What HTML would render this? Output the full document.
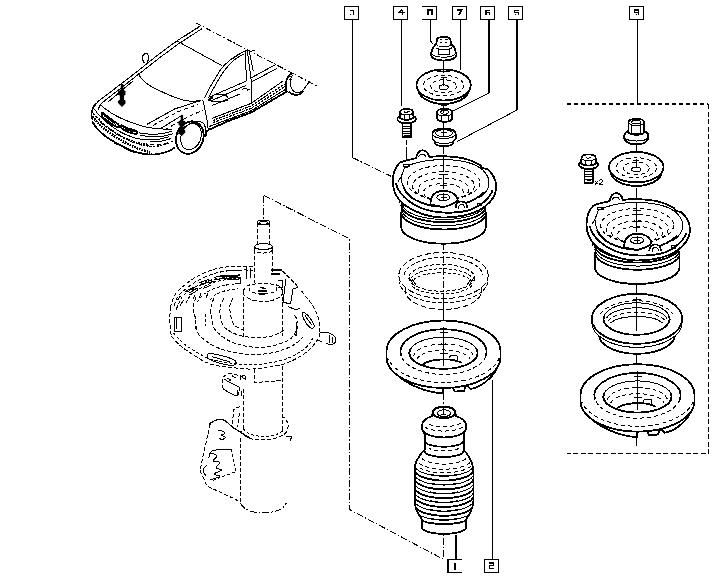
<!DOCTYPE html>
<html><head><meta charset="utf-8"><title>diagram</title>
<style>
html,body{margin:0;padding:0;background:#fff;}
body{width:718px;height:580px;overflow:hidden;font-family:"Liberation Sans",sans-serif;}
svg{display:block;shape-rendering:crispEdges;}
path,ellipse,rect,line{fill:none;stroke:#000;stroke-width:1;stroke-linecap:butt;stroke-linejoin:round;}
.t{stroke-width:1;}
.n{stroke-width:1;}
.k{stroke-width:1.8;}
.h{stroke-width:2;}
.k2{stroke-width:1.25;}
.d{stroke-width:1;stroke-dasharray:4 2;}
.d6{stroke-width:1;stroke-dasharray:6 2.5;}
.dd{stroke-width:1;stroke-dasharray:3 2;}
.dn{stroke-width:1;stroke-dasharray:4 3;}
.c{stroke-width:1;stroke-dasharray:7 2 1.5 2;}
.cs{stroke-width:1;stroke-dasharray:5 2;}
.bx{stroke-width:2;stroke-dasharray:4.8 2.2;}
.bx1{stroke-width:1;stroke-dasharray:5 2.5;}
.cf{stroke-width:1;stroke-dasharray:6 2 1.5 2;}
.dk{stroke-width:1.2;stroke-dasharray:2.5 1;}
.hx{stroke-width:2.4;stroke-dasharray:1.6 1;}
.hx2{stroke-width:2;stroke-dasharray:1.6 1;}
.fk{fill:#000;stroke:#000;stroke-width:.5;}
.w{fill:#fff;}
.f{fill:#000;}
.lb{stroke-width:1.2;}
.g{stroke-width:1.1;stroke-linejoin:miter;}
.g2{stroke-width:2;stroke-linejoin:miter;}
text{font-family:"Liberation Sans",sans-serif;fill:#000;stroke:none;}
</style></head><body>
<svg width="718" height="580" viewBox="0 0 718 580">
<rect class="lb" x="344.5" y="6.5" width="14" height="13"/>
<rect class="lb" x="393.5" y="6.5" width="14" height="13"/>
<path class="lb" d="M422.3,6.5H436.3V19.5H422.3" />
<rect class="lb" x="452.4" y="6.5" width="14" height="13"/>
<rect class="lb" x="480.4" y="6.5" width="14" height="13"/>
<rect class="lb" x="508.5" y="6.5" width="14" height="13"/>
<rect class="lb" x="629.3" y="6.5" width="14" height="13"/>
<path class="g" d="M349.8,10.2H353.6V15" />
<path class="g" d="M349.8,14.4h1" />
<path class="g" d="M402.6,9.6V15.2M398.2,12.8H404.6M398.4,12.6L401.8,9.8" />
<path class="g2" d="M427.6,15V10.4H431.6V15" />
<path class="g2" d="M457.2,10.2H461.4L459.2,15" />
<path class="g" d="M489.6,10.2H486V14.8M486,12.4H489.8V15" />
<path class="g" d="M518.6,10.2H514.8V12.4H518.4V15M514.6,14.6h1.2" />
<path class="g" d="M638.2,15V10H634.6V12.6H638" />
<path class="g" d="M636.4,14.8h1" />
<path class="lb" d="M461.6,559.8H448V572.8H461.6" />
<path class="g2" d="M455,562.6V569.6" />
<rect class="lb" x="484.5" y="559.5" width="14" height="13.3"/>
<path class="g" d="M489.4,563H493.4V565.6H489.6V568.6H493.8" />
<path class="t" d="M352.3,19.5V157.5" />
<path class="c" d="M352.3,157.5L391.5,176.5" />
<path class="t" d="M401.3,19.5V105.5" />
<path class="t" d="M430.4,19.5V41L433.5,44.5" />
<path class="t" d="M460.3,19.5V70" />
<path class="h" d="M488.9,19.5V93" />
<path class="t" d="M488.9,93L453,111" />
<path class="h" d="M517.1,19.5V110" />
<path class="t" d="M517.1,110L457.4,141.4" />
<path class="t" d="M637.3,19.5V103" />
<path class="t" d="M492.5,380V559.5" />
<path class="h" d="M456,535V559.8" />
<path class="bx" d="M566.5,103.6H708" />
<path class="bx1" d="M708.6,104V453.4H566.5" />
<path class="c" d="M263.8,195.5V221" />
<path class="c" d="M263.8,195.5L349.5,238.8V509.5L443.5,559.3V535" />
<path class="t" d="M443.5,60.5V69.5M437.5,69.7H450" />
<path class="t" d="M443.5,103V109M440.5,105.6H446.5" />
<path class="t" d="M443.5,120V129" />
<path class="t" d="M443.5,145.5V154M443.5,157V172M443.5,175V183" />
<path class="k w" d="M436.9,40C436.9,36 450.5,36 450.5,40L451.09999999999997,44C453.7,46 455.3,49 455.7,52C457.3,54 456.7,57 452.7,59C447.7,61 439.7,61 434.7,59C430.7,57 430.09999999999997,54 431.7,52C432.09999999999997,49 433.7,46 436.3,44Z" />
<path class="t" d="M451.1,44.0A7.4,2.6 0 0 1 436.3,44.0"/>
<path class="t" d="M455.8,53.4A12.3,4.6 0 0 1 431.6,53.4"/>
<path class="t" d="M439.7,40.2q1.4,-1.6 2.8,0M444.9,40.2q1.4,-1.6 2.8,0" />
<path class="n" d="M440.3,42.4h2M445.3,42.4h2" />
<path class="t" d="M440.7,49.4h-2.4V54.6h2.4M446.7,49.4h2.4V54.6h-2.4M440.7,54.6h6" />
<path class="n" d="M451.8,47.8A8.6,2.4 0 0 1 435.6,47.8"/>
<path class="k" d="M469.2,89.8A25.7,15.5 0 0 1 418.0,89.8"/>
<ellipse class="k w" cx="443.6" cy="85" rx="27.2" ry="15.5"/>
<ellipse class="dn" cx="443.6" cy="85.5" rx="20.128" ry="10.23"/>
<ellipse class="dn" cx="443.6" cy="86.2" rx="12.783999999999999" ry="6.51"/>
<ellipse class="t" cx="443.6" cy="87.2" rx="4.6240000000000006" ry="2.3249999999999997"/>
<path class="t" d="M443.40000000000003,76.6V86M440.6,77.8h6" />
<path class="t" d="M443.5,60.5V73M437.4,71H450.4" />
<path class="k w" d="M436.90000000000003,112.39999999999999C436.90000000000003,107.8 452.3,107.8 452.3,112.39999999999999V118.2C451.1,123.0 438.1,123.0 436.90000000000003,118.2Z" />
<path class="t" d="M452.3,112.6A7.7,3.4 0 0 1 436.9,112.6"/>
<ellipse class="t" cx="444.6" cy="112.2" rx="3.8" ry="2"/>
<path class="t" d="M441.20000000000005,115.6V121.2M448.0,115.6V121.2" />
<path class="t" d="M443.8,109.8V112.8" />
<path class="k w" d="M432.4,133.6C432.4,126.7 455.6,126.7 455.6,133.6V139.0L453,141.4V143.4C450,147.20000000000002 438,147.20000000000002 435,143.4V141.4L432.4,139.0Z" />
<path class="t" d="M455.6,133.6A11.6,5 0 0 1 432.4,133.6"/>
<ellipse class="t" cx="444" cy="133.20000000000002" rx="8.4" ry="3.5"/>
<path class="t" d="M455.0,140.0A11.4,4.6 0 0 1 433.0,140.0"/>
<path class="t" d="M443.5,129.0V136.8M441,132.0h5.5M441.6,136.4h4" />
<path class="k w" d="M402.40000000000003,123.0V137.0H410.8V123.0" />
<path class="n" d="M402.40000000000003,126.4H410.8" />
<path class="n" d="M402.40000000000003,128.7H410.8" />
<path class="n" d="M402.40000000000003,131.0H410.8" />
<path class="n" d="M402.40000000000003,133.3H410.8" />
<path class="k" d="M403.6,135.6h6" />
<ellipse class="k w" cx="406.6" cy="119.0" rx="9.3" ry="4.4"/>
<path class="k w" d="M400.20000000000005,112.0C400.20000000000005,108.0 413.0,108.0 413.0,112.0L413.6,117.6C410.6,120.6 402.6,120.6 399.6,117.6Z" />
<path class="t" d="M413.0,112.2A6.4,2.6 0 0 1 400.2,112.2"/>
<path class="n" d="M404.0,114.6V119.4M409.20000000000005,114.6V119.4" />
<path class="n" d="M403.6,111.4l2,1.4l4,-1.6" />
<path class="t" d="M406.5,140V144.6M406.5,147V163" />
<path class="k w" d="M404.0,203.0C402.0,207.0 401.2,209.0 401.2,213.0V227.2A42.3,16.5 0 0 0 485.8,227.2V213.0C485.8,209.0 485.0,207.0 483.0,203.0" />
<path class="t" d="M401.2,202.5C401.6,205.5 402.0,205.5 403.0,207.0A42.3,16.5 0 0 0 485.8,205.5"/>
<path class="k" d="M401.2,205.29999999999998C401.6,208.29999999999998 402.0,208.29999999999998 403.0,209.79999999999998A42.3,16.5 0 0 0 485.8,208.29999999999998"/>
<path class="t" d="M401.2,208.79999999999998C401.6,211.79999999999998 402.0,211.79999999999998 403.0,213.29999999999998A42.3,16.5 0 0 0 485.8,211.79999999999998"/>
<path class="k" d="M401.2,212.5C401.6,215.5 402.0,215.5 403.0,217.0A42.3,16.5 0 0 0 485.8,215.5"/>
<path class="k w" d="M392.8,181.0C393.0,172.0 395.5,166.5 400.0,162.6L403.4,161.2L416.0,158.2C417.0,153.0 419.0,150.4 422.4,150.2C425.6,150.2 428.0,153.0 429.4,157.0C437.0,155.8 452.0,156.0 462.0,158.0C470.0,159.8 476.0,162.4 480.7,165.4L481.4,168.0L487.3,169.0C492.0,173.0 496.0,179.0 496.2,186.0C496.4,195.0 490.0,204.0 479.0,210.4C468.0,215.8 455.0,217.6 443.0,217.6C428.0,217.2 415.0,212.0 406.0,206.0C397.6,200.0 392.8,191.0 392.8,181.0Z" />
<path class="t" d="M418.6,157.4C419.0,153.5 424.5,153.0 426.0,157.2" />
<path class="k" d="M396.0,183.0C398.0,193.0 408.0,202.6 422.0,208.4C436.0,213.6 456.0,214.0 470.0,210.0C481.0,206.0 490.0,198.0 492.6,190.0" />
<path class="t" d="M401.3,176.5L404.5,167.5C415.0,161.8 432.0,159.4 446.0,159.6C462.0,160.0 476.0,164.0 482.8,170.0C487.0,174.0 489.5,179.0 489.0,184.0C488.5,190.0 485.0,194.0 479.0,198.0" />
<path class="t" d="M398.2,181.4L401.3,176.5C401.0,184.0 405.0,191.0 411.0,196.0" />
<ellipse class="dn" cx="443.5" cy="182.5" rx="36.5" ry="17.0"/>
<ellipse class="dn" cx="443.5" cy="186.0" rx="31.0" ry="14.2"/>
<ellipse class="dn" cx="443.5" cy="189.5" rx="25.5" ry="11.5"/>
<path class="dn" d="M426.2,197.0A20.0,9.0 0 1 1 460.8,197.0"/>
<path class="k" d="M403.5,187.0C406.0,195.0 416.0,202.0 431.0,205.6L440.0,206.4" />
<path class="k" d="M458.0,205.6C468.0,203.0 478.0,198.5 483.5,192.5" />
<path class="k w" d="M430.4,204.6C430.5,196.0 435.0,191.0 443.5,190.8C452.0,191.0 457.0,195.0 457.8,200.4C454.0,204.5 448.0,205.5 443.0,207.4L440.0,206.4Z" />
<ellipse class="t" cx="443.3" cy="197.4" rx="6.6" ry="3.3"/>
<path class="t" d="M443.5,192.8V200.0M440.5,197.4h6" />
<path class="k w" d="M455.6,208.4C455.0,199.4 467.0,199.0 467.4,208.0" />
<path class="t" d="M458.4,208.6C458.6,203.0 464.4,203.0 464.6,208.2" />
<path class="n" d="M477.4,203.0h4v2.6h-4zM479.0,204.4h1.4" />
<ellipse class="t" cx="406.5" cy="165.6" rx="3.2" ry="1.5"/>
<path class="t" d="M399.0,199.0v4.4M401.5,201.5v3.6" />
<path class="t" d="M443.5,145.5V154M443.5,157V172M443.5,175V189M439.4,174H447.6M440,185.6H447" />
<path class="c" d="M443.5,243V320" />
<ellipse class="d6" cx="443.5" cy="275.5" rx="44.7" ry="23"/>
<path class="d" d="M404.1,274.8A39.6,19.4 0 0 1 482.9,274.8"/>
<path class="d" d="M488.0,282.0A44.7,23 0 0 1 399.0,282.0"/>
<path class="d6" d="M405.5,288V291A38,18.4 0 0 0 481.5,291V288" />
<ellipse class="d" cx="441.8" cy="277.8" rx="33" ry="13.4"/>
<path class="dd" d="M411.5,277.8A31,11.4 0 0 1 472.1,277.8"/>
<path class="dd" d="M413.8,279.6A29.4,9.8 0 0 1 469.8,279.6"/>
<path class="dd" d="M472.3,285.4A32.5,13 0 0 1 411.3,285.4"/>
<path class="n" d="M409,277l4,7M474,277l-4,7M412,279l4,6M471,279l-4,6" />
<path class="t" d="M443.5,300V320" />
<path class="k w" d="M389.0,364.0C391.0,369.0 393.0,371.0 395.0,373.0C405.0,383.0 424.0,392.4 443.0,393.4V386.0L452.4,386.4L455.0,391.6L464.2,390.8L465.2,386.4L467.8,386.2L470.6,389.0C478.0,388.0 485.0,383.0 490.0,378.0C494.0,374.0 497.0,369.0 498.4,364.0" />
<path class="k w" d="M386.5,351.5A57.0,31.0 0 0 1 500.5,351.5V357.0A57.0,31.0 0 0 1 386.5,357.0Z" />
<path class="dn" d="M499.3,357.9A57.0,31.0 0 0 1 387.7,357.9"/>
<path class="dn" d="M485.8,355.9A43.0,22.6 0 0 1 401.2,355.9"/>
<path class="k" d="M401.2,355.9A43.0,22.6 0 1 1 485.8,355.9"/>
<ellipse class="t" cx="443.5" cy="353.0" rx="34.0" ry="15.8"/>
<path class="k" d="M476.3,348.9A34.0,15.8 0 1 1 410.7,348.9"/>
<path class="dn" d="M413.6,355.9A30.0,13.0 0 0 1 473.4,355.9"/>
<path class="dn" d="M416.9,359.1A27.0,11.0 0 0 1 470.1,359.1"/>
<path class="k" d="M422.5,366.5A21.0,7.0 0 0 1 461.7,363.0"/>
<path class="t" d="M449.0,358.4L450.5,355.6H457.0V360.4" />
<path class="t" d="M443.5,327.0V366.0M439.5,332.6h8M439.5,344.0h8M439.5,353.6h8" />
<path class="c" d="M443.5,393V406" />
<clipPath id="bc"><path d="M432.6,412.6C432.6,404.6 455.4,404.6 455.4,412.6L456,416C460.5,417.5 466.2,421 466.2,426C466.2,430 465,432 463.6,433.6V450L466,452.5C468.5,456 471.6,460 472.4,465L473.4,470V501C473.2,506 471,512 468,516.5L466,519.5V527.6C464,536 424,536 422,527.6V519.5L420,516.5C417,512 414.8,506 414.6,501V470L415.2,465C416.4,460 419.5,456 422,452.5L424.6,450V433.6C423,432 422,430 422,426C422,421 427.6,417.5 432,416Z"/></clipPath>
<path class="k w" d="M432.6,412.6C432.6,404.6 455.4,404.6 455.4,412.6L456,416C460.5,417.5 466.2,421 466.2,426C466.2,430 465,432 463.6,433.6V450L466,452.5C468.5,456 471.6,460 472.4,465L473.4,470V501C473.2,506 471,512 468,516.5L466,519.5V527.6C464,536 424,536 422,527.6V519.5L420,516.5C417,512 414.8,506 414.6,501V470L415.2,465C416.4,460 419.5,456 422,452.5L424.6,450V433.6C423,432 422,430 422,426C422,421 427.6,417.5 432,416Z" />
<ellipse class="k" cx="444" cy="412.6" rx="11.4" ry="5.6"/>
<ellipse class="t" cx="444" cy="413.2" rx="6.6" ry="3.4"/>
<path class="t" d="M443.5,406V414.5M441,414.8h5" />
<path class="k" d="M465.9,429.2A22,9.2 0 0 1 422.1,429.2"/>
<path class="dn" d="M460.4,423.3A17.5,5 0 0 1 427.6,423.3"/>
<path class="dn" d="M462.6,427.3A20.5,6.5 0 0 1 425.4,427.3"/>
<path class="k" d="M463.4,441.0A19.4,5.8 0 0 1 424.6,441.0"/>
<path class="k" d="M463.4,451.2A19.4,5.8 0 0 1 424.6,451.2"/>
<path class="dn" d="M458.7,448.5A17,5 0 0 1 429.3,448.5"/>
<g clip-path="url(#bc)">
<path class="dn" d="M465.8,458.8A24,9 0 0 1 422.2,458.8"/>
<path class="dn" d="M470.0,462.5A28,10.6 0 0 1 418.0,462.5"/>
<path class="dn" d="M470.8,466.3A29.6,11.4 0 0 1 417.2,466.3"/>
<path class="t" d="M473.8,464.6A29.8,11.6 0 0 1 414.2,464.6"/>
<path class="k2" d="M457.8,474.3A24,9.2 0 0 1 430.2,474.3"/>
<path class="k" d="M473.8,469.0A29.8,11.6 0 0 1 414.2,469.0"/>
<path class="k2" d="M457.8,478.7A24,9.2 0 0 1 430.2,478.7"/>
<path class="t" d="M473.8,473.4A29.8,11.6 0 0 1 414.2,473.4"/>
<path class="k2" d="M457.8,483.1A24,9.2 0 0 1 430.2,483.1"/>
<path class="k" d="M473.8,477.8A29.8,11.6 0 0 1 414.2,477.8"/>
<path class="k2" d="M457.8,487.5A24,9.2 0 0 1 430.2,487.5"/>
<path class="t" d="M473.8,482.2A29.8,11.6 0 0 1 414.2,482.2"/>
<path class="k2" d="M457.8,491.9A24,9.2 0 0 1 430.2,491.9"/>
<path class="k" d="M473.8,486.6A29.8,11.6 0 0 1 414.2,486.6"/>
<path class="k2" d="M457.8,496.3A24,9.2 0 0 1 430.2,496.3"/>
<path class="t" d="M473.8,491.0A29.8,11.6 0 0 1 414.2,491.0"/>
<path class="k2" d="M457.8,500.7A24,9.2 0 0 1 430.2,500.7"/>
<path class="k" d="M473.8,495.4A29.8,11.6 0 0 1 414.2,495.4"/>
<path class="k2" d="M457.8,505.1A24,9.2 0 0 1 430.2,505.1"/>
<path class="t" d="M473.8,499.8A29.8,11.6 0 0 1 414.2,499.8"/>
<path class="k2" d="M457.8,509.5A24,9.2 0 0 1 430.2,509.5"/>
<path class="k" d="M473.8,504.2A29.8,11.6 0 0 1 414.2,504.2"/>
<path class="k2" d="M457.8,513.9A24,9.2 0 0 1 430.2,513.9"/>
<path class="t" d="M473.8,508.6A29.8,11.6 0 0 1 414.2,508.6"/>
<path class="k2" d="M457.8,518.3A24,9.2 0 0 1 430.2,518.3"/>
</g>
<path class="k" d="M465.9,519.4A22,4.6 0 0 1 421.9,519.4"/>
<path class="t" d="M636.5,144.5V152M636.5,187.5V203M636.5,283V296M636.5,352V364M636.5,437V446" />
<path class="k w" d="M628.5,122.4C628.5,117.8 644.0999999999999,117.8 644.0999999999999,122.4V131C649.3,133 649.6999999999999,138 646.3,141.4C642.3,145.4 630.3,145.4 626.3,141.4C622.9,138 623.3,133 628.5,131Z" />
<path class="t" d="M644.1,122.4A7.8,3.2 0 0 1 628.5,122.4"/>
<ellipse class="n" cx="636.3" cy="122.2" rx="4.6" ry="1.8"/>
<path class="t" d="M631.8,125.2V133.6H640.8V125.2" />
<path class="k" d="M644.8,131.4A8.5,3.4 0 0 1 627.8,131.4"/>
<path class="t" d="M648.8,137.0A12.6,4.6 0 0 1 623.8,137.0"/>
<path class="k" d="M662.0,172.1A25.8,15.2 0 0 1 610.6,172.1"/>
<ellipse class="k w" cx="636.3" cy="167.2" rx="27.3" ry="15.2"/>
<ellipse class="dn" cx="636.3" cy="167.7" rx="20.202" ry="10.032"/>
<ellipse class="dn" cx="636.3" cy="168.39999999999998" rx="12.831" ry="6.3839999999999995"/>
<ellipse class="t" cx="636.3" cy="169.39999999999998" rx="4.641" ry="2.28"/>
<path class="t" d="M636.0999999999999,158.79999999999998V168.2M633.3,160.0h6" />
<path class="k w" d="M584.4,167.6V182.6H592.8000000000001V167.6" />
<path class="n" d="M584.4,171.6H592.8000000000001" />
<path class="n" d="M584.4,174.1H592.8000000000001" />
<path class="n" d="M584.4,176.6H592.8000000000001" />
<path class="n" d="M584.4,179.1H592.8000000000001" />
<path class="k" d="M586.6,180.2h4" />
<ellipse class="k w" cx="588.6" cy="164.6" rx="9.6" ry="4.4"/>
<path class="k w" d="M581.6,157.6C581.6,153.4 595.6,153.4 595.6,157.6L596.2,163.1C592.6,166.4 584.6,166.4 581.0,163.1Z" />
<path class="t" d="M595.6,157.8A7,2.8 0 0 1 581.6,157.8"/>
<path class="n" d="M586.0,157.4l2,1.2l3.4,-1.6" />
<path class="n" d="M585.6,160.6V165.0M591.6,160.6V165.0" />
<path class="t" d="M595,184.4l3,-3.4M595.4,181l2.2,3.4M599.4,180.6q2,-1.6 3,0q0.4,1.4 -3.4,3.8h3.6" />
<path class="k w" d="M597.7,245.9C595.7,249.9 594.9000000000001,251.9 594.9000000000001,255.9V267.5A42.3,16.5 0 0 0 679.5,267.5V255.9C679.5,251.9 678.7,249.9 676.7,245.9" />
<path class="t" d="M594.9000000000001,242.8C595.3000000000001,245.8 595.7,245.8 596.7,247.3A42.3,16.5 0 0 0 679.5,245.8"/>
<path class="k" d="M594.9000000000001,245.6C595.3000000000001,248.6 595.7,248.6 596.7,250.1A42.3,16.5 0 0 0 679.5,248.6"/>
<path class="t" d="M594.9000000000001,249.1C595.3000000000001,252.1 595.7,252.1 596.7,253.6A42.3,16.5 0 0 0 679.5,252.1"/>
<path class="k" d="M594.9000000000001,252.8C595.3000000000001,255.8 595.7,255.8 596.7,257.3A42.3,16.5 0 0 0 679.5,255.8"/>
<path class="k w" d="M586.5,223.9C586.7,214.9 589.2,209.4 593.7,205.5L597.1,204.1L609.7,201.1C610.7,195.9 612.7,193.3 616.1,193.1C619.3000000000001,193.1 621.7,195.9 623.1,199.9C630.7,198.70000000000002 645.7,198.9 655.7,200.9C663.7,202.70000000000002 669.7,205.3 674.4000000000001,208.3L675.1,210.9L681.0,211.9C685.7,215.9 689.7,221.9 689.9000000000001,228.9C690.1,237.9 683.7,246.9 672.7,253.3C661.7,258.70000000000005 648.7,260.5 636.7,260.5C621.7,260.1 608.7,254.9 599.7,248.9C591.3000000000001,242.9 586.5,233.9 586.5,223.9Z" />
<path class="t" d="M612.3000000000001,200.3C612.7,196.4 618.2,195.9 619.7,200.1" />
<path class="k" d="M589.7,225.9C591.7,235.9 601.7,245.5 615.7,251.3C629.7,256.5 649.7,256.9 663.7,252.9C674.7,248.9 683.7,240.9 686.3000000000001,232.9" />
<path class="t" d="M595.0,219.4L598.2,210.4C608.7,204.70000000000002 625.7,202.3 639.7,202.5C655.7,202.9 669.7,206.9 676.5,212.9C680.7,216.9 683.2,221.9 682.7,226.9C682.2,232.9 678.7,236.9 672.7,240.9" />
<path class="t" d="M591.9000000000001,224.3L595.0,219.4C594.7,226.9 598.7,233.9 604.7,238.9" />
<ellipse class="dn" cx="637.2" cy="225.4" rx="36.5" ry="17.0"/>
<ellipse class="dn" cx="637.2" cy="228.9" rx="31.0" ry="14.2"/>
<ellipse class="dn" cx="637.2" cy="232.4" rx="25.5" ry="11.5"/>
<path class="dn" d="M619.9,239.9A20.0,9.0 0 1 1 654.5,239.9"/>
<path class="k" d="M597.2,229.9C599.7,237.9 609.7,244.9 624.7,248.5L633.7,249.3" />
<path class="k" d="M651.7,248.5C661.7,245.9 671.7,241.4 677.2,235.4" />
<path class="k w" d="M624.1,247.5C624.2,238.9 628.7,233.9 637.2,233.70000000000002C645.7,233.9 650.7,237.9 651.5,243.3C647.7,247.4 641.7,248.4 636.7,250.3L633.7,249.3Z" />
<ellipse class="t" cx="637.0" cy="240.3" rx="6.6" ry="3.3"/>
<path class="t" d="M637.2,235.70000000000002V242.9M634.2,240.3h6" />
<path class="k w" d="M649.3000000000001,251.3C648.7,242.3 660.7,241.9 661.1,250.9" />
<path class="t" d="M652.1,251.5C652.3000000000001,245.9 658.1,245.9 658.3000000000001,251.1" />
<path class="n" d="M671.1,245.9h4v2.6h-4zM672.7,247.3h1.4" />
<ellipse class="t" cx="600.2" cy="208.5" rx="3.2" ry="1.5"/>
<path class="t" d="M592.7,241.9v4.4M595.2,244.4v3.6" />
<path class="t" d="M636.5,203V232M633,210.8h8M633.4,214.8h7M633,221.6h8M633.4,227.6h7" />
<path class="k w" d="M599,330.8V334.8A38,19 0 0 0 675,334.8V330.8" />
<path class="t w" d="M591.8,318.8V322.40000000000003A45.2,25 0 0 0 682.2,322.40000000000003V318.8" />
<ellipse class="k w" cx="637" cy="318.8" rx="45.2" ry="25"/>
<ellipse class="t" cx="636.6" cy="318.8" rx="33" ry="16"/>
<path class="k" d="M669.1,316.0A33,16 0 1 1 604.1,316.0"/>
<path class="t" d="M606.3,318.4A31,13.4 0 0 1 666.9,318.4"/>
<path class="dn" d="M608.2,320.8A29.4,11.6 0 0 1 665.0,320.8"/>
<path class="t" d="M610.7,323.0A27.6,9.8 0 0 1 662.5,323.0"/>
<path class="dn" d="M600.3,314.0A38.6,20 0 0 1 672.9,314.0"/>
<path class="t" d="M636.5,296.8V330.8M632.5,299.8h8M632.5,307.8h8M633,316.8h7" />
<path class="k w" d="M583.0,407.7C585.0,412.7 587.0,414.7 589.0,416.7C599.0,426.7 618.0,436.09999999999997 637.0,437.09999999999997V429.7L646.4,430.09999999999997L649.0,435.3L658.2,434.5L659.2,430.09999999999997L661.8,429.9L664.6,432.7C672.0,431.7 679.0,426.7 684.0,421.7C688.0,417.7 691.0,412.7 692.4,407.7" />
<path class="k w" d="M580.5,395.2A57.0,31.0 0 0 1 694.5,395.2V400.7A57.0,31.0 0 0 1 580.5,400.7Z" />
<path class="dn" d="M693.3,401.6A57.0,31.0 0 0 1 581.7,401.6"/>
<path class="dn" d="M679.8,399.6A43.0,22.6 0 0 1 595.2,399.6"/>
<path class="k" d="M595.2,399.6A43.0,22.6 0 1 1 679.8,399.6"/>
<ellipse class="t" cx="637.5" cy="396.7" rx="34.0" ry="15.8"/>
<path class="k" d="M670.3,392.6A34.0,15.8 0 1 1 604.7,392.6"/>
<path class="dn" d="M607.6,399.6A30.0,13.0 0 0 1 667.4,399.6"/>
<path class="dn" d="M610.9,402.8A27.0,11.0 0 0 1 664.1,402.8"/>
<path class="k" d="M616.5,410.2A21.0,7.0 0 0 1 655.7,406.7"/>
<path class="t" d="M643.0,402.09999999999997L644.5,399.3H651.0V404.09999999999997" />
<path class="t" d="M637.5,370.7V409.7M633.5,376.3h8M633.5,387.7h8M633.5,397.3h8" />
<ellipse class="t" cx="263.5" cy="222.4" rx="6.2" ry="2.4"/>
<ellipse class="n" cx="263.5" cy="222.8" rx="4" ry="1.4"/>
<path class="d" d="M257.3,222.6V244M269.7,222.6V244" />
<ellipse class="t" cx="263.5" cy="246.6" rx="8.8" ry="3"/>
<path class="t" d="M254.8,246.6V250M272.2,246.6V250" />
<path class="d" d="M272.3,250.0A8.8,3 0 0 1 254.7,250.0"/>
<path class="d" d="M254.8,250V283M272.2,250V272" />
<path class="d" d="M243.2,291.0C244.0,290.1 244.7,286.8 248.0,285.5C251.3,284.2 258.0,283.5 263.0,283.5C268.0,283.5 274.7,284.2 278.0,285.5C281.3,286.8 282.0,290.1 282.8,291.0"/>
<path class="d" d="M282.8,292.0A19.8,9.5 0 0 1 243.2,292.0"/>
<path class="d" d="M276.2,287.3A14,5 0 1 1 249.8,287.3"/>
<path class="k" d="M258,290.6h9M259,294h6" />
<path class="d" d="M243.2,291V339M282.8,291V336" />
<path class="d" d="M170.6,307.4C170.8,306.5 171.2,304.0 172.0,301.8C172.8,299.6 173.6,296.7 175.4,294.1C177.2,291.6 180.0,289.2 183.1,286.5C186.2,283.8 189.5,280.8 194.2,278.1C198.8,275.4 205.7,272.2 211.0,270.4C216.3,268.5 221.0,267.7 226.3,267.0C231.6,266.3 238.6,266.3 243.0,266.3C247.4,266.3 251.1,266.9 252.7,267.0"/>
<path class="d" d="M301.6,291.0C302.5,292.2 305.2,295.7 307.0,298.0C308.8,300.3 310.9,302.7 312.4,305.0C313.9,307.3 315.0,309.7 316.0,312.0C317.0,314.3 318.0,316.7 318.6,319.0C319.2,321.3 319.5,323.7 319.6,326.0C319.7,328.3 319.4,331.8 319.4,333.0"/>
<path class="d" d="M170.6,307.4C170.5,309.5 169.7,315.2 169.8,320.0C169.9,324.8 171.1,333.7 171.3,336.4"/>
<path class="d" d="M171.3,336.4C172.8,337.9 176.9,342.7 180.0,345.4C183.1,348.1 185.0,349.5 190.0,352.6C195.0,355.7 202.1,361.3 210.0,363.9C217.9,366.5 230.6,367.3 237.7,368.2C244.8,369.1 248.2,369.1 252.8,369.0C257.4,368.9 259.5,368.9 265.3,367.8C271.1,366.7 280.7,365.4 287.8,362.6C294.9,359.8 302.9,355.0 307.9,351.0C312.9,347.0 316.1,341.8 318.0,338.8C319.9,335.8 319.3,334.0 319.6,333.0"/>
<path class="d" d="M174.0,306.0C174.6,304.5 175.8,299.7 177.6,297.0C179.4,294.3 181.9,292.2 185.0,289.6C188.1,287.0 191.5,284.2 196.0,281.6C200.5,279.0 206.7,276.0 212.0,274.2C217.3,272.4 222.8,271.5 228.0,270.8C233.2,270.1 238.8,270.1 243.0,270.0C247.2,269.9 251.3,270.3 253.0,270.4"/>
<path class="dd" d="M173.5,333.0C175.1,334.7 179.6,340.1 183.0,343.0C186.4,345.9 189.2,347.8 194.0,350.6C198.8,353.4 204.7,357.4 212.0,359.6C219.3,361.8 231.2,363.1 238.0,364.0C244.8,364.9 248.3,364.9 253.0,364.8C257.7,364.7 260.3,364.6 266.0,363.6C271.7,362.6 280.5,361.1 287.0,358.6C293.5,356.1 300.7,351.9 305.0,348.5C309.3,345.1 311.7,339.8 313.0,338.0"/>
<path class="d" d="M196.0,297.0C195.5,298.8 193.2,304.6 193.0,308.0C192.8,311.4 194.3,313.5 195.1,317.6C195.9,321.7 195.8,328.7 197.6,332.6C199.4,336.5 202.7,338.5 206.0,341.0C209.3,343.5 213.7,345.9 217.7,347.7C221.7,349.5 225.8,350.6 230.0,351.6C234.2,352.6 238.0,353.4 242.7,353.9C247.4,354.4 253.0,354.6 258.0,354.4C263.0,354.2 268.3,353.6 272.8,352.7C277.3,351.8 281.2,350.5 285.0,349.0C288.8,347.5 292.4,345.9 295.4,343.9C298.4,341.9 301.7,338.1 303.0,337.0"/>
<path class="d" d="M214.0,298.0C213.5,299.5 211.4,303.7 211.0,307.0C210.6,310.3 210.9,314.2 211.4,317.6C211.9,321.0 212.5,324.8 213.9,327.6C215.3,330.4 217.7,332.5 220.0,334.6C222.3,336.7 224.9,338.5 227.7,340.1C230.5,341.7 233.7,342.9 237.0,344.0C240.3,345.1 244.0,345.8 247.7,346.4C251.4,347.0 255.2,347.4 259.0,347.4C262.8,347.4 266.6,347.1 270.3,346.4C274.0,345.7 277.6,344.6 281.0,343.4C284.4,342.1 287.8,341.1 290.4,338.9C293.0,336.7 295.3,333.0 296.6,330.0C297.9,327.0 297.8,322.5 298.0,321.0"/>
<path class="d" d="M224.0,298.0C223.4,299.3 221.1,303.2 220.5,306.0C219.9,308.8 219.8,311.8 220.2,315.0C220.6,318.2 221.4,322.5 222.7,325.0C224.0,327.5 225.9,328.5 228.0,330.0C230.1,331.5 232.4,332.8 235.2,333.9C238.0,335.0 241.7,336.0 245.0,336.6C248.3,337.2 251.8,337.5 255.3,337.6C258.8,337.7 262.7,337.4 266.0,337.0C269.3,336.6 272.3,336.2 275.3,335.0C278.3,333.8 282.6,330.8 284.0,330.0"/>
<path class="d" d="M233.0,298.0C232.5,299.0 230.7,301.6 230.2,304.0C229.7,306.4 229.8,309.5 230.2,312.6C230.6,315.7 231.6,320.2 232.7,322.6C233.8,325.0 235.3,325.8 237.0,327.0C238.7,328.2 241.8,329.5 242.7,330.0"/>
<path class="dd" d="M178.6,304.0C179.3,302.7 180.8,298.5 183.0,296.0C185.2,293.5 188.5,291.2 192.0,289.0C195.5,286.8 199.7,284.4 204.0,282.6C208.3,280.8 215.7,278.8 218.0,278.0"/>
<path class="dd" d="M186.0,303.0C186.8,301.7 188.7,297.4 191.0,295.0C193.3,292.6 196.5,290.5 200.0,288.5C203.5,286.5 207.7,284.5 212.0,283.0C216.3,281.5 221.3,280.4 226.0,279.6C230.7,278.8 237.7,278.3 240.0,278.0"/>
<path class="dd" d="M197.0,302.0C198.0,300.8 200.5,297.1 203.0,295.0C205.5,292.9 208.5,291.2 212.0,289.6C215.5,288.0 219.7,286.5 224.0,285.5C228.3,284.5 235.7,283.8 238.0,283.5"/>
<path class="dd" d="M210.0,300.0C211.0,299.1 213.3,296.1 216.0,294.5C218.7,292.9 222.3,291.6 226.0,290.6C229.7,289.6 236.0,288.9 238.0,288.6"/>
<path class="n" d="M186,291l8,-4l2,2l-7,4M199,283l9,-3.5l1,2l-8,3.6M214,277.6l10,-2.6v2.6l-9,2.4M226,276.6h12v3h-10z" />
<path class="n" d="M228,270.5h14M246,267v12M250,268v10" />
<path class="n" d="M174,317h7.4v14.6h-7.4zM176.6,317v12" />
<path class="n" d="M207.0,355.5C207.2,354.6 207.5,353.6 210.0,353.6C212.5,353.6 218.0,354.5 222.0,355.6C226.0,356.7 231.7,358.7 234.0,360.0C236.3,361.3 236.3,362.5 236.0,363.4C235.7,364.3 234.7,365.4 232.0,365.4C229.3,365.4 223.8,364.5 220.0,363.4C216.2,362.3 211.2,360.3 209.0,359.0C206.8,357.7 206.8,356.4 207.0,355.5Z"/>
<path class="n" d="M212,356.6l18,5.4" />
<path class="d" d="M282.4,271L298.5,287.2" />
<path class="k" d="M271.4,269.6H281.6M271.4,273.6h9" />
<path class="t" d="M293,288.6l4.6,-0.8M293,288.6L290.6,303.4M286,278.6L283,302M282.2,302.4l8.4,1.2" />
<path class="t" d="M302.0,313.4C302.0,312.1 303.3,311.8 304.6,312.6C305.9,313.4 308.4,315.9 310.0,318.0C311.6,320.1 313.5,323.3 314.0,325.0C314.5,326.7 313.8,327.7 313.0,328.0C312.2,328.3 310.8,328.2 309.4,327.0C308.0,325.8 305.8,322.9 304.6,320.6C303.4,318.3 302.0,314.7 302.0,313.4Z"/>
<path class="n" d="M305,315.6l6.6,9" />
<path class="t" d="M288.4,306.6l7,3.2l4.6,-1.6M293.8,314.4l3.2,4.6" />
<path class="k2" d="M297,322L296,336" />
<path class="t" d="M320.0,333.0C320.7,332.8 322.3,331.9 324.0,332.0C325.7,332.1 328.2,332.6 330.0,333.4C331.8,334.2 334.1,335.6 335.0,337.0C335.9,338.4 336.3,340.7 335.6,342.0C334.9,343.3 332.6,344.4 331.0,344.6C329.4,344.8 326.8,343.3 326.0,343.0"/>
<path class="n" d="M329,335.4v7.6M332.6,337v6" />
<path class="n" d="M316,340l6,1.6" />
<path class="d" d="M254,369.2V382.6L282.8,380.4" />
<path class="d" d="M282.8,366V432M243.1,389V430M240.3,437.6V503" />
<path class="d" d="M243.4,377.4L236.0,374.6L228.2,373.4L222.7,377.4L222.7,388.4"/>
<path class="t" d="M222.7,388.4C223.6,389.0 225.9,390.8 228.0,392.0C230.1,393.2 233.3,395.1 235.1,395.4C236.9,395.7 237.9,395.4 238.6,394.0C239.3,392.6 239.1,388.2 239.2,387.0"/>
<path class="n" d="M239.2,387.0L229.0,382.0L224.0,379.0"/>
<path class="n" d="M226.6,377.6l4,2.4l-3,2M232,375.6l4,2.6" />
<path class="n" d="M237,396v-6M241,396v-5" />
<path class="t" d="M239.4,376.4l1,-1v4.6M242.6,375.6h2.4v2.4h-2.4zM245,378v2" />
<path class="d" d="M240.3,430.7C241.2,431.7 243.8,435.2 246.0,436.6C248.2,438.0 250.7,438.7 253.4,439.3C256.1,439.9 259.1,440.0 262.0,440.0C264.9,440.0 268.0,439.7 270.7,439.3C273.4,438.9 275.7,438.3 278.0,437.4C280.3,436.5 282.9,435.3 284.5,434.0C286.1,432.7 287.0,431.2 287.6,429.5C288.2,427.8 288.2,425.6 287.9,423.8C287.5,422.1 286.4,420.1 285.5,419.0C284.6,417.9 283.2,417.2 282.8,416.9"/>
<path class="dd" d="M243.0,428.6C244.2,429.5 246.8,432.7 250.0,434.0C253.2,435.3 257.8,436.2 262.0,436.4C266.2,436.6 271.4,436.0 275.0,435.0C278.6,434.0 282.1,431.2 283.5,430.5"/>
<path class="n" d="M286.4,436h5.4l-1.6,5" />
<path class="d" d="M240,406.4L233.7,409.4L232.4,424.4" />
<path class="d" d="M239.4,412.6L237.8,427.4" />
<path class="k2" d="M208.9,424.2C210.1,423.5 213.3,420.9 215.8,420.2C218.3,419.5 221.3,419.0 224.1,420.1C226.9,421.2 229.2,424.7 232.4,427.0C235.6,429.3 240.5,432.2 243.4,434.0C246.3,435.8 248.9,437.0 250.0,437.6"/>
<path class="d" d="M210.3,423.8L205.0,447.0L200.0,470.3L206.9,485.9L236.2,499.7L240.3,503.1"/>
<path class="t" d="M218.0,430.4C218.7,430.5 220.9,430.5 222.0,431.0C223.1,431.5 224.8,432.9 224.6,433.6C224.4,434.3 220.9,434.4 221.0,435.0C221.1,435.6 225.2,436.2 225.4,437.0C225.6,437.8 223.1,439.4 222.0,439.6C220.9,439.8 219.5,438.3 219.0,438.0"/>
<path class="n" d="M208.6,458.0C209.2,456.8 209.4,452.4 212.0,451.0C214.6,449.6 220.8,449.7 224.0,449.4C227.2,449.1 229.8,449.1 231.0,449.0"/>
<path class="dd" d="M231.0,449.0L236.2,471.6L211.0,481.0"/>
<path class="n" d="M211.0,453.0C212.0,453.5 216.7,454.7 217.0,456.0C217.3,457.3 212.5,459.9 213.0,461.0C213.5,462.1 219.5,461.2 220.0,462.4C220.5,463.6 215.7,466.7 216.0,468.0C216.3,469.3 222.3,469.0 222.0,470.0C221.7,471.0 214.3,472.9 214.0,474.0C213.7,475.1 220.7,475.4 220.0,476.4C219.3,477.4 211.7,479.4 210.0,480.0"/>
<path class="n" d="M207.0,465.0C206.3,465.8 203.2,468.2 203.0,470.0C202.8,471.8 205.5,475.0 206.0,476.0"/>
<path class="c" d="M240.3,503.1C240.9,503.9 242.4,506.3 244.0,507.6C245.6,508.9 247.9,510.2 250.0,511.0C252.1,511.8 254.3,512.1 256.6,512.4C258.9,512.7 261.2,512.9 263.8,512.8C266.4,512.7 269.4,512.5 272.0,512.0C274.6,511.5 277.3,510.9 279.3,510.0C281.3,509.1 282.9,507.6 284.0,506.5C285.1,505.4 285.8,503.7 286.2,503.1"/>
<path class="k2" d="M217.7,276.4L240,275M219,279l16,-1.4" />
<path class="t" d="M235.4,277.4h5v6.4h-5" />
<path class="k2" d="M185,291.6l5,-2.6l3,1.4l4.6,-2.4M189,295l6,-3" />
<path class="t" d="M177.6,300l3,-4.4M180,306l3.4,-6M176,310l2,-5" />
<path class="t" d="M199,285.6l6,-2.4M203,288.6l8,-3.4M208,283l7,-2" />
<path class="n" d="M193,299l2,-4M199,298l2,-4.4M206,297.6l2,-4" />
<path class="n" d="M277.8,280.4h5v7h-5" />
<path class="dd" d="M195.6,316v14M205,314v12" />
<path class="k2" d="M260,287.6l6,0.8M259,290.6h8" />
<path class="cf" d="M195.8,22.9L317.7,86.4" />
<path class="t" d="M96.6,102.6L136.2,72.3L158.6,54.3L176.9,40.9L200.6,25.6"/>
<path class="n" d="M102.6,102.4L139.4,73.6L160.6,57.0L178.6,43.8L202.0,28.6"/>
<path class="cs" d="M176.9,40.9L201,26" />
<path class="n" d="M108.3,101.8L133.1,80.9"/>
<path class="k2" d="M144.4,63.0C144.1,62.3 142.5,60.0 142.4,58.6C142.3,57.2 142.8,55.4 143.6,54.6C144.4,53.8 146.1,53.3 147.0,53.8C147.9,54.3 148.7,56.0 148.8,57.4C148.9,58.8 147.8,60.7 147.4,62.0C147.0,63.3 146.7,64.5 146.6,65.0"/>
<path class="t" d="M138.5,73.5C138.9,74.2 139.6,76.3 141.0,78.0C142.4,79.7 144.9,81.9 146.9,83.5C148.9,85.1 150.8,86.3 153.0,87.6C155.2,88.8 157.4,89.7 160.2,91.0C163.0,92.3 166.7,94.0 170.0,95.4C173.3,96.8 177.0,98.2 180.3,99.2C183.6,100.2 186.6,101.0 190.0,101.2C193.4,101.4 199.2,100.7 201.0,100.6"/>
<path class="t" d="M176.9,40.9L222.2,65.8"/>
<path class="t" d="M246.5,50.2C245.1,50.9 240.9,52.8 238.0,54.6C235.1,56.4 231.8,58.5 229.0,60.9C226.2,63.3 223.3,66.1 221.0,69.0C218.7,71.9 217.3,75.2 215.3,78.5C213.3,81.8 210.8,85.8 209.0,89.0C207.2,92.2 205.3,96.5 204.6,98.0"/>
<path class="n" d="M244.0,54.0C242.7,54.8 238.5,56.8 236.0,58.6C233.5,60.4 231.3,62.4 229.0,65.0C226.7,67.6 224.2,70.8 222.0,74.0C219.8,77.2 217.8,80.8 216.0,84.0C214.2,87.2 212.3,90.6 211.0,93.0C209.7,95.4 208.8,97.5 208.4,98.4"/>
<path class="n" d="M230.0,60.2L244.7,50.9"/>
<path class="t" d="M245.5,50.1L246.3,81.1"/>
<path class="t" d="M247.3,51.0L251.0,78.8L251.0,103.6"/>
<path class="n" d="M249.4,51.6L253.3,71.0"/>
<path class="n" d="M245.5,50.1l4.6,1.2l4.6,-0.6" />
<path class="t" d="M209.5,97.0L246.3,81.1"/>
<path class="n" d="M212.0,100.4L245.6,85.6"/>
<path class="t" d="M251.0,78.0L275.4,64.6"/>
<path class="n" d="M251.7,81.9L276.8,68.5"/>
<path class="t" d="M208.4,99.6C208.9,99.0 210.7,97.4 212.0,96.6C213.3,95.8 213.6,94.7 216.0,94.6C218.4,94.5 224.8,95.0 226.6,96.0C228.4,97.0 228.7,99.7 226.8,100.6C224.9,101.5 218.0,101.4 215.0,101.4C212.0,101.4 210.1,100.7 209.0,100.4C207.9,100.1 207.9,100.2 208.4,99.6Z"/>
<path class="k" d="M209,99.4l4,-2" />
<path class="n" d="M241.6,90.6l2,-2h3l1,1.6l2.6,-1" />
<path class="t" d="M202.8,99.7L205.0,110.0L207.4,122.2L208.2,130.0"/>
<path class="t" d="M212.0,118.4L251.0,103.4L283.0,81.0"/>
<path class="dk" d="M212.6,120.6L251.0,106.0L284.3,84.2"/>
<path class="dk" d="M213.0,122.6L251.0,108.4L285.0,86.6"/>
<path class="t" d="M209.0,126.6L251.0,110.8L286.0,89.0"/>
<path class="k" d="M208.2,130.0L230.0,120.4L251.0,112.6L287.4,91.2"/>
<path class="n" d="M212.0,105.6L240.0,94.0"/>
<path class="k" d="M286.6,91.4C286.4,90.3 285.6,86.8 285.6,85.0C285.6,83.2 285.9,82.0 286.6,80.3C287.3,78.6 288.5,76.1 289.7,74.9C290.9,73.7 293.0,73.5 293.6,73.2"/>
<path class="t" d="M292.4,75.0C292.1,75.7 290.9,77.3 290.6,79.0C290.3,80.7 290.2,83.2 290.5,85.0C290.8,86.8 291.5,88.3 292.4,89.6C293.2,90.9 294.4,92.1 295.6,92.6C296.8,93.1 298.3,93.1 299.6,92.6C300.9,92.1 302.2,90.6 303.4,89.4C304.6,88.2 305.6,86.9 306.6,85.6C307.6,84.3 309.1,82.1 309.6,81.4"/>
<path class="k" d="M288.6,91.6C289.2,92.0 290.6,93.5 292.0,94.0C293.4,94.5 295.3,94.9 296.7,94.8C298.1,94.7 299.5,94.2 300.6,93.6C301.8,93.0 303.1,91.4 303.6,91.0"/>
<path class="n" d="M289.6,76l2.6,1.4M288.6,79l3,1" />
<path class="t" d="M147.1,124.3L175.0,108.8L201.2,100.5"/>
<path class="dn" d="M153.0,125.4L178.0,111.6L198.0,104.4"/>
<path class="t" d="M160.9,128.4L181.0,116.0"/>
<path class="dn" d="M165.0,129.6L186.0,118.0L203.0,110.0"/>
<path class="t" d="M101.3,104.9C102.0,105.6 102.8,107.0 105.2,108.8C107.7,110.6 111.9,113.6 116.0,115.8C120.1,118.0 125.3,120.2 130.0,122.0C134.7,123.8 140.1,125.6 144.0,126.6C147.9,127.6 150.3,127.8 153.3,128.2C156.3,128.6 158.9,128.7 162.0,128.9C165.1,129.2 170.2,129.6 171.9,129.7"/>
<path class="k" d="M96.6,102.6C96.1,103.4 94.4,105.4 93.5,107.2C92.6,109.0 91.6,111.3 91.4,113.4C91.2,115.5 92.4,118.7 92.6,119.7"/>
<path class="t" d="M102.6,102.4C102.1,103.0 100.3,104.7 99.6,106.0C98.9,107.3 98.6,109.3 98.4,110.0"/>
<path class="k" d="M102.4,112.8C103.4,113.1 106.1,116.1 108.0,117.6C109.9,119.1 112.3,120.5 114.0,121.6C115.7,122.7 117.7,123.4 118.4,124.4C119.1,125.4 119.3,127.4 118.2,127.4C117.1,127.4 114.1,125.8 112.0,124.6C109.9,123.4 107.3,121.4 105.6,120.0C103.9,118.6 102.5,117.2 102.0,116.0C101.5,114.8 101.4,112.5 102.4,112.8Z"/>
<path class="t" d="M104,115.6l12,9M105.6,114.6l11.6,8.6M103.6,117.6l10,7" />
<path class="k" d="M121.5,125.4C122.5,125.4 125.5,127.5 128.0,128.4C130.4,129.3 134.9,130.1 136.2,131.0C137.5,131.9 137.4,133.6 136.0,133.8C134.6,134.0 130.4,132.9 128.0,132.0C125.6,131.1 122.9,129.7 121.8,128.6C120.7,127.5 120.5,125.4 121.5,125.4Z"/>
<path class="t" d="M123,127l11.6,4.6M123,128.6l10,3.6M127,127.6v4M131,129v4" />
<path class="t" d="M139.0,132.8C140.8,133.0 146.2,134.1 150.0,134.2C153.8,134.3 158.4,134.1 162.0,133.6C165.6,133.1 170.0,131.8 171.6,131.4"/>
<path class="t" d="M140.0,135.2C142.0,135.5 148.0,136.7 152.0,136.8C156.0,136.9 160.5,136.5 164.0,136.0C167.5,135.5 171.5,134.0 173.0,133.6"/>
<path class="t" d="M94.3,108.8C94.9,109.7 96.5,112.2 98.0,114.0C99.5,115.8 101.3,117.6 103.6,119.7C105.9,121.8 109.2,124.3 112.0,126.4C114.8,128.5 118.0,130.6 120.7,132.1C123.4,133.6 125.8,134.6 128.4,135.6C131.0,136.6 133.4,137.6 136.2,138.3C139.0,139.0 142.2,139.3 145.0,139.6C147.8,139.8 150.6,139.9 153.3,139.8C156.0,139.7 158.4,139.3 161.0,138.8C163.6,138.3 167.5,137.0 168.8,136.7"/>
<path class="hx" d="M92.8,116.6C93.8,117.8 96.5,121.5 99.0,124.0C101.5,126.5 104.8,129.2 108.0,131.6C111.2,134.0 114.7,136.5 118.0,138.6C121.3,140.7 124.7,142.3 128.0,144.0C131.3,145.7 134.3,147.2 138.0,148.6C141.7,150.0 148.2,151.6 150.2,152.2"/>
<path class="hx2" d="M97.0,117.0C98.2,118.3 101.2,122.1 104.0,124.6C106.8,127.1 110.3,129.7 114.0,132.0C117.7,134.3 122.0,136.8 126.0,138.6C130.0,140.4 134.3,142.0 138.0,143.0C141.7,144.0 146.3,144.3 148.0,144.6"/>
<path class="dk" d="M93.2,113.6C94.3,114.8 97.2,118.4 100.0,121.0C102.8,123.6 106.3,126.7 110.0,129.4C113.7,132.1 118.0,134.8 122.0,137.0C126.0,139.2 130.0,141.1 134.0,142.6C138.0,144.1 142.0,145.2 146.0,145.8C150.0,146.4 154.0,146.5 158.0,146.0C162.0,145.5 168.0,143.5 170.0,143.0"/>
<path class="t" d="M150.0,141.6C151.7,141.6 156.5,141.9 160.0,141.4C163.5,140.9 169.2,139.1 171.0,138.6"/>
<path class="dn" d="M150.0,144.6C152.0,144.6 158.1,145.0 162.0,144.4C165.9,143.8 171.4,141.6 173.3,141.0"/>
<path class="k" d="M92.0,121.2C92.6,122.1 94.2,124.8 95.6,126.6C97.0,128.4 98.4,130.2 100.5,132.1C102.6,134.0 105.4,136.2 108.0,138.0C110.6,139.8 113.3,141.4 116.0,142.9C118.7,144.4 121.4,145.9 124.0,147.2C126.6,148.5 128.8,149.7 131.6,150.7C134.4,151.7 137.9,152.8 141.0,153.4C144.1,154.1 147.4,154.5 150.2,154.6C153.0,154.7 155.4,154.4 158.0,154.0C160.6,153.6 163.5,152.9 165.7,152.2C167.9,151.5 169.4,150.8 171.0,150.0C172.6,149.2 174.3,147.8 175.0,147.4"/>
<path class="hx2" d="M110.0,139.6C111.7,140.6 116.3,143.7 120.0,145.6C123.7,147.5 127.8,149.6 132.0,151.0C136.2,152.4 141.7,153.4 145.0,154.0C148.3,154.6 150.8,154.3 152.0,154.4"/>
<ellipse class="k w" cx="189.8" cy="137.6" rx="13.4" ry="16.6" transform="rotate(20 189.8 137.6)"/>
<ellipse class="t" cx="191" cy="136.6" rx="10" ry="13.4" transform="rotate(20 191 136.6)"/>
<path class="t" d="M178.7,134.0C179.2,133.2 180.2,130.8 181.6,129.4C183.0,128.0 185.0,126.6 187.2,125.3C189.4,124.0 192.4,122.1 195.0,121.7C197.6,121.3 201.0,121.6 202.8,123.0C204.6,124.4 205.6,128.0 205.9,130.0C206.2,132.0 204.8,134.2 204.6,135.0"/>
<path class="k" d="M203.6,136.4l2.6,-1.2l0.6,-5" />
<path class="fk" d="M121.2,84.0L122.8,84.0L123.2,90.2L125.4,91.0L125.4,94.8L123.6,95.6L123.6,100.2L125.4,100.8L125.4,103.4L122.0,107.0L118.4,103.4L118.4,100.8L120.2,100.2L120.2,95.6L118.4,94.8L118.4,91.0L120.8,90.2Z"/>
<path class="fk" d="M181.1,115.2L182.6,115.2L182.9,120.8L184.9,121.5L184.9,124.9L183.3,125.6L183.3,129.8L184.9,130.3L184.9,132.7L181.8,135.9L178.6,132.7L178.6,130.3L180.2,129.8L180.2,125.6L178.6,124.9L178.6,121.5L180.8,120.8Z"/>
</svg>
</body></html>
